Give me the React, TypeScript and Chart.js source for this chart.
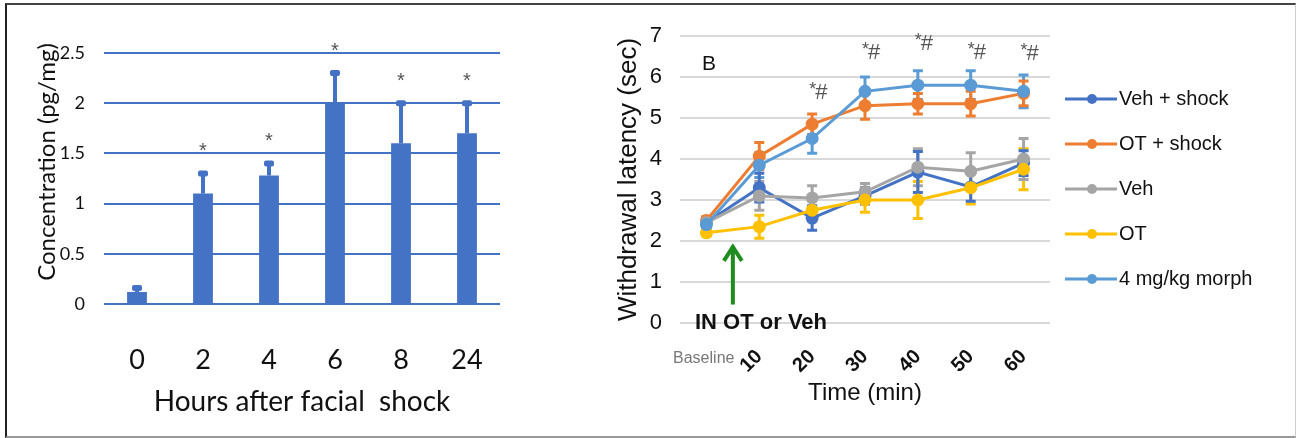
import React, { useEffect, useRef } from 'react';
import { Chart, registerables } from 'chart.js';
Chart.register(...registerables);

// ---------- Panel A data ----------
const hours = ['0', '2', '4', '6', '8', '24'];
const concentration = [0.12, 1.1, 1.28, 2.0, 1.6, 1.7];
const concentrationErr = [0.06, 0.22, 0.14, 0.32, 0.42, 0.32];
const concentrationSig = ['', '*', '*', '*', '*', '*'];
const concTicks = [0, 0.5, 1, 1.5, 2, 2.5];

// ---------- Panel B data ----------
const timeLabels = ['Baseline', '10', '20', '30', '40', '50', '60'];
const seriesNames = ['Veh + shock', 'OT + shock', 'Veh', 'OT', '4 mg/kg morph'];
const seriesColors = ['#4472C4', '#ED7D31', '#A5A5A5', '#FFC000', '#5B9BD5'];
const vehShock = [2.45, 3.3, 2.56, 3.1, 3.68, 3.32, 3.9];
const vehShockErr = [0.12, 0.35, 0.3, 0.2, 0.5, 0.35, 0.3];
const otShock = [2.5, 4.07, 4.85, 5.3, 5.35, 5.35, 5.6];
const otShockErr = [0.1, 0.33, 0.25, 0.33, 0.25, 0.3, 0.3];
const veh = [2.45, 3.1, 3.05, 3.2, 3.8, 3.7, 4.0];
const vehErr = [0.12, 0.35, 0.3, 0.2, 0.45, 0.45, 0.5];
const ot = [2.2, 2.35, 2.75, 3.0, 3.0, 3.3, 3.75];
const otErr = [0.08, 0.28, 0.25, 0.3, 0.45, 0.4, 0.5];
const morph = [2.4, 3.85, 4.5, 5.65, 5.8, 5.8, 5.65];
const morphErr = [0.1, 0.3, 0.36, 0.35, 0.35, 0.35, 0.4];
const seriesValues = [vehShock, otShock, veh, ot, morph];
const seriesErrors = [vehShockErr, otShockErr, vehErr, otErr, morphErr];
const timeSig = ['', '', '*#', '*#', '*#', '*#', '*#'];
const timeSigLevel = [0, 0, 5.63, 6.61, 6.83, 6.61, 6.59];
const latencyTicks = [0, 1, 2, 3, 4, 5, 6, 7];
const arrowTipValue = 1.93;
const arrowTailValue = 0.45;

const FONT_A = 'Lato, "Open Sans", sans-serif';
const FONT_B = '"Liberation Sans", Arial, sans-serif';

export default function App() {
  const leftRef = useRef<HTMLCanvasElement | null>(null);
  const rightRef = useRef<HTMLCanvasElement | null>(null);

  useEffect(() => {
    const barBlue = '#4472C4';

    const barErrorPlugin = {
      id: 'barErrors',
      afterDatasetsDraw(chart: any) {
        const ctx = chart.ctx;
        const meta = chart.getDatasetMeta(0);
        const ys = chart.scales.y;
        ctx.save();
        meta.data.forEach((bar: any, i: number) => {
          const x = bar.x;
          const yTop = bar.y;
          const yErr = ys.getPixelForValue(concentration[i] + concentrationErr[i]);
          ctx.fillStyle = barBlue;
          ctx.fillRect(x - 2, yErr, 4, yTop - yErr);
          ctx.beginPath();
          ctx.roundRect(x - 5, yErr - 1, 10, 6, 2);
          ctx.fill();
          if (concentrationSig[i]) {
            ctx.fillStyle = '#555';
            ctx.font = `20px ${FONT_B}`;
            ctx.textAlign = 'center';
            ctx.textBaseline = 'middle';
            ctx.fillText(concentrationSig[i], x, yErr - 20);
          }
        });
        // y-axis title (drawn so it sits where the original places it)
        ctx.fillStyle = '#111';
        ctx.font = `24px ${FONT_A}`;
        ctx.textAlign = 'center';
        ctx.textBaseline = 'middle';
        ctx.translate(47, 162);
        ctx.rotate(-Math.PI / 2);
        ctx.fillText('Concentration (pg/mg)', 0, 0);
        ctx.restore();
      },
    };

    const left = new Chart(leftRef.current as HTMLCanvasElement, {
      type: 'bar',
      data: {
        labels: hours,
        datasets: [
          {
            data: concentration,
            backgroundColor: barBlue,
            barPercentage: 0.3,
            categoryPercentage: 1,
          },
        ],
      },
      options: {
        responsive: false,
        animation: false,
        devicePixelRatio: 1,
        layout: { padding: { left: 0, top: 53, right: 60, bottom: 0 } },
        plugins: { legend: { display: false }, tooltip: { enabled: false } },
        scales: {
          x: {
            grid: { display: false },
            border: { display: false },
            ticks: { font: { family: FONT_A, size: 27 }, color: '#111', padding: 32 },
            title: {
              display: true,
              text: 'Hours after facial  shock',
              font: { family: FONT_A, size: 28 },
              color: '#111',
              padding: { top: 0, bottom: 19 },
            },
            afterFit: (s: any) => {
              s.height = 134;
            },
          },
          y: {
            min: 0,
            max: 2.5,
            afterBuildTicks: (s: any) => {
              s.ticks = concTicks.map((v) => ({ value: v }));
            },
            ticks: {
              font: { family: FONT_A, size: 18 },
              color: '#111',
              padding: 19,
              callback: (v: any) => String(v),
            },
            grid: { color: barBlue, lineWidth: 2, drawTicks: false },
            border: { display: false },
            afterFit: (s: any) => {
              s.width = 104;
            },
          },
        },
      },
      plugins: [barErrorPlugin],
    });

    const errorPlugin = {
      id: 'lineErrors',
      beforeDatasetsDraw(chart: any) {
        const ctx = chart.ctx;
        const ys = chart.scales.y;
        ctx.save();
        for (let d = seriesValues.length - 1; d >= 0; d--) {
          const meta = chart.getDatasetMeta(d);
          ctx.strokeStyle = seriesColors[d];
          ctx.lineWidth = 3;
          meta.data.forEach((pt: any, i: number) => {
            const v = seriesValues[d][i];
            const e = seriesErrors[d][i];
            const yT = ys.getPixelForValue(v + e);
            const yB = ys.getPixelForValue(v - e);
            ctx.beginPath();
            ctx.moveTo(pt.x, yT);
            ctx.lineTo(pt.x, yB);
            ctx.moveTo(pt.x - 5, yT);
            ctx.lineTo(pt.x + 5, yT);
            ctx.moveTo(pt.x - 5, yB);
            ctx.lineTo(pt.x + 5, yB);
            ctx.stroke();
          });
        }
        ctx.restore();
      },
    };

    const annotPlugin = {
      id: 'annot',
      afterDraw(chart: any) {
        const ctx = chart.ctx;
        const xs = chart.scales.x;
        const ys = chart.scales.y;
        const area = chart.chartArea;
        ctx.save();
        // panel letter
        ctx.fillStyle = '#111';
        ctx.font = `21px ${FONT_B}`;
        ctx.textAlign = 'left';
        ctx.textBaseline = 'middle';
        ctx.fillText('B', area.left + 22, 64);
        // significance marks
        timeSig.forEach((s, i) => {
          if (!s) return;
          const x = xs.getPixelForValue(i) + 5;
          const y = ys.getPixelForValue(timeSigLevel[i]);
          ctx.fillStyle = '#555';
          ctx.font = `18px ${FONT_B}`;
          ctx.textAlign = 'right';
          ctx.textBaseline = 'middle';
          ctx.fillText(s.slice(0, 1), x - 1, y - 2);
          ctx.font = `22px ${FONT_B}`;
          ctx.textAlign = 'left';
          ctx.fillText(s.slice(1), x - 2, y + 1);
        });
        // Baseline label
        ctx.fillStyle = '#777';
        ctx.font = `16px ${FONT_B}`;
        ctx.textAlign = 'right';
        ctx.textBaseline = 'middle';
        ctx.fillText('Baseline', xs.getPixelForValue(0) + 28, 359);
        // green arrow
        const ax = (xs.getPixelForValue(0) + xs.getPixelForValue(1)) / 2;
        const tipY = ys.getPixelForValue(arrowTipValue);
        const tailY = ys.getPixelForValue(arrowTailValue);
        ctx.strokeStyle = '#1E8C1E';
        ctx.lineWidth = 4;
        ctx.lineCap = 'butt';
        ctx.beginPath();
        ctx.moveTo(ax, tailY);
        ctx.lineTo(ax, tipY + 2);
        ctx.stroke();
        ctx.lineJoin = 'miter';
        ctx.beginPath();
        ctx.moveTo(ax - 9, tipY + 17);
        ctx.lineTo(ax, tipY + 3);
        ctx.lineTo(ax + 9, tipY + 17);
        ctx.stroke();
        // IN OT or Veh
        ctx.fillStyle = '#111';
        ctx.font = `bold 22px ${FONT_B}`;
        ctx.textAlign = 'left';
        ctx.textBaseline = 'middle';
        ctx.fillText('IN OT or Veh', area.left + 15, ys.getPixelForValue(0));
        // legend
        seriesNames.forEach((name, i) => {
          const y = 99 + i * 45;
          ctx.strokeStyle = seriesColors[i];
          ctx.lineWidth = 3;
          ctx.beginPath();
          ctx.moveTo(505, y);
          ctx.lineTo(557, y);
          ctx.stroke();
          ctx.fillStyle = seriesColors[i];
          ctx.beginPath();
          ctx.arc(532, y, 5, 0, Math.PI * 2);
          ctx.fill();
          ctx.fillStyle = '#111';
          ctx.font = `20px ${FONT_B}`;
          ctx.textAlign = 'left';
          ctx.textBaseline = 'middle';
          ctx.fillText(name, 559, y);
        });
        ctx.restore();
      },
    };

    const right = new Chart(rightRef.current as HTMLCanvasElement, {
      type: 'line',
      data: {
        labels: timeLabels,
        datasets: seriesNames.map((name, i) => ({
          label: name,
          data: seriesValues[i],
          borderColor: seriesColors[i],
          backgroundColor: seriesColors[i],
          pointBackgroundColor: seriesColors[i],
          pointBorderColor: seriesColors[i],
          borderWidth: 3,
          pointRadius: 5,
          order: seriesNames.length - 1 - i,
          tension: 0,
        })),
      },
      options: {
        responsive: false,
        animation: false,
        devicePixelRatio: 1,
        layout: { padding: { left: 0, top: 36, right: 246, bottom: 0 } },
        plugins: { legend: { display: false }, tooltip: { enabled: false } },
        scales: {
          x: {
            offset: true,
            grid: { display: false, offset: true },
            border: { display: false },
            ticks: {
              autoSkip: false,
              maxRotation: 45,
              minRotation: 45,
              font: { family: FONT_B, size: 20, weight: 'bold' },
              color: '#111',
              padding: 14,
              callback: (v: any, i: number) => (i === 0 ? '' : timeLabels[i]),
            },
            title: {
              display: true,
              text: 'Time (min)',
              font: { family: FONT_B, size: 24 },
              color: '#111',
              padding: { top: 0, bottom: 30 },
            },
            afterFit: (s: any) => {
              s.height = 115;
            },
          },
          y: {
            min: 0,
            max: 7,
            afterBuildTicks: (s: any) => {
              s.ticks = latencyTicks.map((v) => ({ value: v }));
            },
            ticks: {
              font: { family: FONT_B, size: 22 },
              color: '#111',
              padding: 18,
            },
            grid: { color: '#D9D9D9', lineWidth: 2, drawTicks: false },
            border: { display: false },
            title: {
              display: true,
              text: 'Withdrawal latency (sec)',
              font: { family: FONT_B, size: 26 },
              color: '#111',
              padding: { top: 53, bottom: 0 },
            },
            afterFit: (s: any) => {
              s.width = 120;
            },
          },
        },
      },
      plugins: [errorPlugin, annotPlugin],
    });

    return () => {
      left.destroy();
      right.destroy();
    };
  }, []);

  return (
    <div
      style={{
        position: 'absolute',
        left: 0,
        top: 0,
        width: 1296,
        height: 438,
        background: '#fff',
        overflow: 'hidden',
      }}
    >
      <canvas
        ref={leftRef}
        width={560}
        height={438}
        style={{ position: 'absolute', left: 0, top: 0, width: 560, height: 438 }}
      />
      <canvas
        ref={rightRef}
        width={736}
        height={438}
        style={{ position: 'absolute', left: 560, top: 0, width: 736, height: 438 }}
      />
      <div
        style={{
          position: 'absolute',
          left: 5,
          top: 3,
          width: 1291,
          height: 435,
          boxSizing: 'border-box',
          borderLeft: '2px solid #222',
          borderTop: '2px solid #444',
          borderRight: '1px solid #ccc',
          borderBottom: '2px solid #999',
          pointerEvents: 'none',
        }}
      />
    </div>
  );
}
